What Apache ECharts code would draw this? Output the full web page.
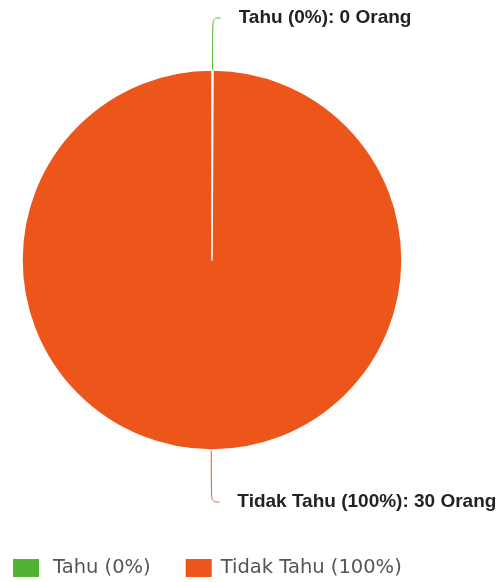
<!DOCTYPE html>
<html>
<head>
<meta charset="utf-8">
<script src="https://cdn.jsdelivr.net/npm/echarts@6/dist/echarts.min.js"></script>
<style>
  html, body { margin: 0; padding: 0; background: #fff; }
  #chart { width: 503px; height: 582px; }
</style>
</head>
<body>
<div id="chart"></div>
<script>
  // data
  var categories = ['Tahu', 'Tidak Tahu']
  var values = [0, 30]
  var colors = ['#50B432', '#ED561B']

  var total = values.reduce(function (a, b) { return a + b }, 0)
  function pct (name) {
    var i = categories.indexOf(name)
    return total ? Math.round(values[i] / total * 100) : 0
  }

  var pieData = categories.map(function (name, i) {
    return { name: name, value: values[i] }
  })

  var myChart = echarts.init(document.getElementById('chart'))
  var option = {
    animation: false,
    color: colors,
    legend: {
      left: 6,
      top: 552,
      itemWidth: 28,
      itemHeight: 20,
      itemGap: 33,
      icon: 'rect',
      data: [
        { name: categories[0] },
        { name: categories[1], textStyle: { padding: [0, 0, 0, 3] } },
      ],
      formatter: function (name) {
        return name + ' (' + pct(name) + '%)'
      },
      textStyle: {
        fontFamily: 'DejaVu Sans',
        fontSize: 19.5,
        color: '#555',
        padding: [0, 0, 0, 8],
      },
    },
    series: [
      {
        name: 'Orang',
        type: 'pie',
        center: [212, 260],
        radius: [0, 190],
        startAngle: 90,
        clockwise: true,
        minAngle: 0.3,
        avoidLabelOverlap: false,
        data: pieData,
        itemStyle: { borderColor: '#fff', borderWidth: 1.5 },
        label: {
          show: true,
          position: 'outside',
          formatter: function (p) {
            return p.name + ' (' + pct(p.name) + '%): ' + p.value + ' Orang'
          },
          fontFamily: 'Liberation Sans',
          fontWeight: 'bold',
          fontSize: 19,
          color: '#222',
          distanceToLabelLine: 18,
        },
        labelLine: {
          show: true,
          length: 52,
          length2: 8,
          smooth: 0.4,
          lineStyle: { width: 1 },
        },
        // keep every label on the right of its leader line, like the original
        labelLayout: function (params) {
          var pts = params.labelLinePoints
          if (!pts || pts[2][0] >= pts[1][0]) return {}
          var mx = pts[1][0]
          var np = pts.map(function (p) { return [2 * mx - p[0], p[1]] })
          return {
            x: np[2][0] + 18,
            y: params.labelRect.y + params.labelRect.height / 2,
            align: 'left',
            verticalAlign: 'middle',
            labelLinePoints: np,
          }
        },
        emphasis: { disabled: true },
      },
    ],
  }
  myChart.setOption(option)
</script>
</body>
</html>
